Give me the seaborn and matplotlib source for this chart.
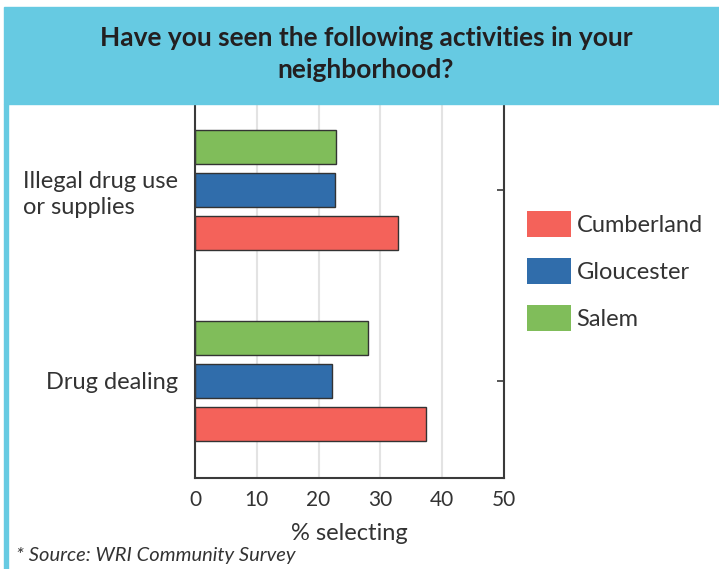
import matplotlib
matplotlib.use("Agg")
import matplotlib.pyplot as plt
from matplotlib.patches import Rectangle, Patch
import pandas as pd
import seaborn as sns

activities = ["Illegal drug use\nor supplies", "Drug dealing"]
counties = ["Salem", "Gloucester", "Cumberland"]
salem = [22.8, 28.0]
gloucester = [22.7, 22.1]
cumberland = [32.9, 37.4]

colors = {"Cumberland": "#F4625A", "Gloucester": "#306DAB", "Salem": "#80BD5A"}
banner = "#66CAE2"
ink = "#333333"

rows = []
for county, vals in zip(counties, [salem, gloucester, cumberland]):
    for act, v in zip(activities, vals):
        rows.append({"activity": act, "county": county, "pct": v})
df = pd.DataFrame(rows)

sns.set_style("white")
plt.rcParams["font.family"] = ["Lato", "DejaVu Sans"]

W, H = 719, 569
fig = plt.figure(figsize=(W / 100, H / 100), dpi=100)
ax = fig.add_axes([195 / W, 1 - 478 / H, (504 - 195) / W, (478 - 104) / H])

sns.barplot(data=df, x="pct", y="activity", hue="county", order=activities,
            hue_order=counties, palette=colors, saturation=1, width=0.675,
            gap=0.21, edgecolor="#333333", linewidth=1.0, legend=False, ax=ax)

ax.set_xlim(0, 50)
ax.set_ylim(1.508, -0.45)
ax.set_xticks([0, 10, 20, 30, 40, 50])
ax.xaxis.grid(True, color="#E3E3E3", linewidth=1.5)
ax.set_axisbelow(True)
for s in ax.spines.values():
    s.set_color("#3a3a3a")
    s.set_linewidth(1.5)
ax.spines["top"].set_visible(False)
ax.tick_params(axis="x", direction="in", length=5, width=1.2, color="#3a3a3a",
               labelsize=15, labelcolor=ink, pad=9)
ax.tick_params(axis="y", direction="in", length=5, width=1.2, color="#3a3a3a",
               labelsize=17, labelcolor=ink, pad=12, right=True)
for lbl in ax.get_yticklabels():
    lbl.set_multialignment("left")
    lbl.set_linespacing(1.3)
ax.set_ylabel("")
ax.set_xlabel("% selecting", fontsize=17, color=ink, labelpad=9)

handles = [Patch(facecolor=colors[c], edgecolor="none") for c in counties[::-1]]
fig.legend(handles, counties[::-1], loc="upper left",
           bbox_to_anchor=(527 / W, 1 - 211 / H), frameon=False,
           fontsize=17, handlelength=1.85, handleheight=1.3,
           handletextpad=0.25, labelspacing=0.9, borderpad=0,
           borderaxespad=0, labelcolor=ink)

# title banner and left stripe
fig.patches.append(Rectangle((4 / W, 1 - 104 / H), 1, (104 - 7) / H,
                             transform=fig.transFigure, color=banner, zorder=5))
fig.patches.append(Rectangle((4 / W, 0), 4 / W, 1 - 104 / H,
                             transform=fig.transFigure, color=banner, zorder=5))
fig.text(366 / W, 1 - 54 / H,
         "Have you seen the following activities in your\nneighborhood?",
         ha="center", va="center", fontsize=19, fontweight="bold",
         color="#231F20", linespacing=1.4, zorder=6)

fig.text(16 / W, 1 - 556 / H, "* Source: WRI Community Survey", fontsize=14.5,
         style="italic", color=ink, va="center")

fig.savefig("out.png", dpi=100)
